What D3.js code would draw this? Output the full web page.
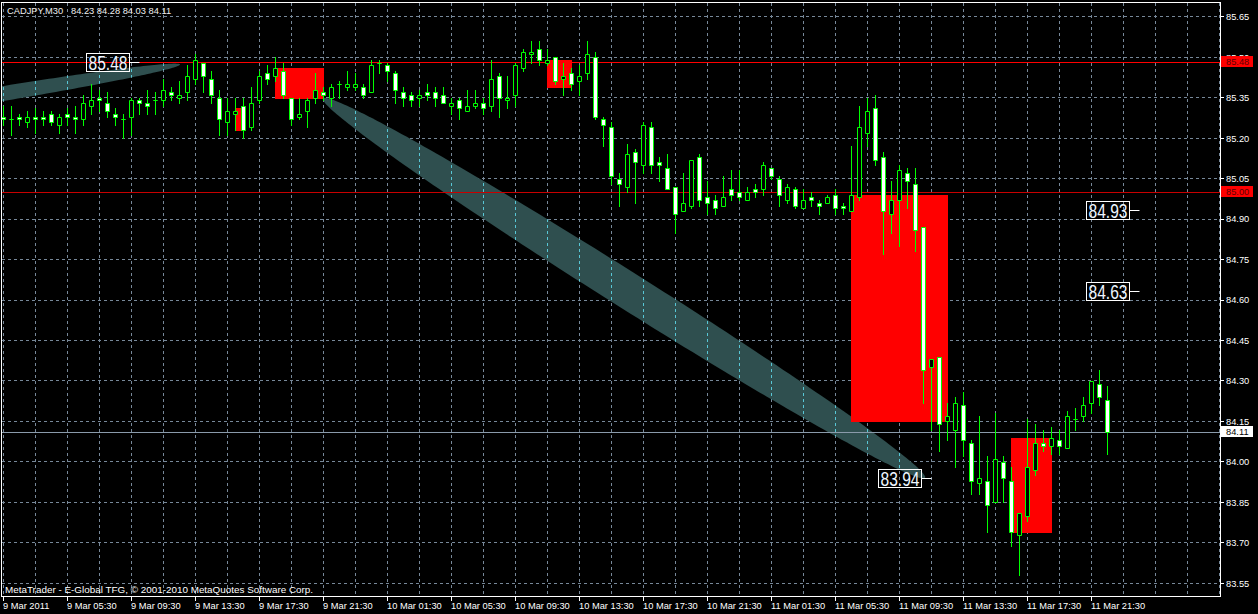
<!DOCTYPE html>
<html><head><meta charset="utf-8">
<script src="https://cdn.jsdelivr.net/npm/d3@7"></script>
<style>html,body{margin:0;padding:0;background:#000;overflow:hidden}</style>
</head><body><svg id="c" width="1258" height="614"></svg>
<script>
// ---------- DATA ----------
const symbolTitle = "CADJPY,M30";
const opens = [85.28,85.27,85.28,85.26,85.28,85.28,85.29,85.25,85.29,85.28,
85.27,85.32,85.35,85.33,85.29,85.27,85.28,85.34,85.33,85.34,
85.34,85.37,85.35,85.37,85.42,85.48,85.42,85.35,85.26,85.29,
85.32,85.24,85.34,85.44,85.43,85.45,85.35,85.28,85.30,85.35,
85.37,85.35,85.40,85.39,85.39,85.39,85.37,85.48,85.47,85.44,
85.37,85.36,85.35,85.37,85.37,85.36,85.32,85.34,85.30,85.32,
85.33,85.32,85.43,85.34,85.36,85.46,85.51,85.53,85.48,85.50,
85.42,85.44,85.41,85.44,85.50,85.27,85.24,85.05,85.02,85.15,
85.10,85.24,85.11,85.09,85.02,84.93,84.95,85.13,84.98,84.97,
84.95,85.01,85.00,84.97,85.01,85.01,85.09,85.05,84.97,85.01,
84.94,84.98,84.96,84.96,84.99,84.95,84.93,84.98,85.22,85.31,
85.13,84.92,84.97,85.07,85.03,84.87,84.35,84.39,84.15,84.12,
84.21,84.07,83.92,83.93,83.85,84.00,83.93,83.73,83.80,83.97,
84.07,84.06,84.08,84.05,84.16,84.17,84.22,84.29,84.23];
const highs = [85.32,85.32,85.29,85.30,85.31,85.30,85.30,85.29,85.31,85.32,
85.36,85.40,85.38,85.37,85.31,85.29,85.35,85.35,85.38,85.37,
85.42,85.39,85.41,85.47,85.51,85.48,85.45,85.38,85.35,85.35,
85.35,85.39,85.45,85.47,85.50,85.48,85.35,85.35,85.35,85.44,
85.39,85.40,85.41,85.45,85.44,85.40,85.49,85.49,85.48,85.45,
85.39,85.37,85.38,85.40,85.39,85.39,85.35,85.35,85.38,85.38,
85.35,85.49,85.44,85.43,85.48,85.53,85.56,85.56,85.53,85.50,
85.48,85.46,85.47,85.56,85.52,85.28,85.26,85.07,85.18,85.16,
85.26,85.26,85.13,85.14,85.02,85.07,85.12,85.14,85.04,84.99,
85.06,85.08,85.08,85.02,85.03,85.11,85.09,85.06,85.03,85.02,
85.01,85.00,84.97,84.99,85.01,84.96,85.17,85.32,85.35,85.36,
85.15,85.04,85.10,85.09,85.09,84.87,84.38,84.39,84.22,84.24,
84.26,84.08,84.17,84.02,84.18,84.02,83.98,83.81,84.16,84.14,
84.12,84.13,84.12,84.19,84.20,84.24,84.30,84.34,84.28];
const lows = [85.25,85.21,85.25,85.24,85.22,85.25,85.25,85.22,85.25,85.22,
85.25,85.29,85.30,85.28,85.25,85.20,85.21,85.29,85.29,85.29,
85.32,85.34,85.33,85.34,85.40,85.37,85.33,85.21,85.21,85.23,
85.20,85.23,85.33,85.40,85.41,85.35,85.25,85.27,85.24,85.33,
85.34,85.32,85.35,85.38,85.38,85.35,85.37,85.44,85.41,85.33,
85.32,85.32,85.32,85.34,85.32,85.33,85.29,85.27,85.30,85.31,
85.29,85.30,85.28,85.31,85.32,85.45,85.48,85.47,85.47,85.40,
85.36,85.38,85.36,85.42,85.27,85.17,85.03,84.95,85.00,84.96,
85.07,85.07,85.04,85.01,84.85,84.93,84.94,84.95,84.92,84.92,
84.95,84.97,84.97,84.97,84.98,84.99,85.05,84.95,84.96,84.94,
84.94,84.95,84.92,84.96,84.92,84.92,84.93,84.97,85.17,85.10,
84.77,84.85,84.80,84.94,84.78,84.22,84.12,84.04,84.08,83.98,
84.02,83.88,83.88,83.74,83.85,83.85,83.69,83.58,83.78,83.95,
84.04,84.03,84.03,84.05,84.12,84.15,84.18,84.21,84.03];
const closes = [85.27,85.27,85.27,85.28,85.27,85.27,85.26,85.28,85.28,85.27,
85.33,85.34,85.34,85.30,85.28,85.27,85.34,85.33,85.32,85.34,
85.38,85.36,85.36,85.43,85.49,85.43,85.36,85.27,85.30,85.30,
85.23,85.33,85.43,85.42,85.46,85.36,85.27,85.29,85.34,85.38,
85.36,85.39,85.40,85.40,85.40,85.36,85.47,85.48,85.45,85.38,
85.35,85.34,85.36,85.36,85.35,85.33,85.33,85.31,85.32,85.33,
85.31,85.42,85.35,85.35,85.47,85.52,85.52,85.49,85.49,85.41,
85.43,85.40,85.43,85.51,85.28,85.25,85.06,85.03,85.14,85.11,
85.25,85.10,85.10,85.01,84.92,84.96,85.12,84.97,84.96,84.94,
84.98,84.99,84.98,85.00,85.00,85.10,85.06,84.99,85.02,84.95,
84.97,84.97,84.95,84.98,84.94,84.94,84.99,85.24,85.30,85.12,
84.93,84.97,85.08,85.04,84.86,84.34,84.38,84.14,84.17,84.22,
84.08,83.93,83.94,83.84,84.01,83.94,83.74,83.81,83.98,84.07,
84.06,84.09,84.06,84.17,84.16,84.21,84.30,84.24,84.11];

const priceTicks = [85.65,85.50,85.35,85.20,85.05,84.90,84.75,84.60,84.45,84.30,84.15,84.00,83.85,83.70,83.55];
const timeTickIndex = [0,8,16,24,32,40,48,56,64,72,80,88,96,104,112,120,128,136];
const timeTickLabels = ["9 Mar 2011","9 Mar 05:30","9 Mar 09:30","9 Mar 13:30","9 Mar 17:30","9 Mar 21:30",
"10 Mar 01:30","10 Mar 05:30","10 Mar 09:30","10 Mar 13:30","10 Mar 17:30","10 Mar 21:30",
"11 Mar 01:30","11 Mar 05:30","11 Mar 09:30","11 Mar 13:30","11 Mar 17:30","11 Mar 21:30"];

// rectangle objects (bar index range, price range)
const rectStartIndex = [29,34,68,106,126];
const rectEndIndex   = [30,40,71,118,131];
const rectTopPrice   = [85.31,85.46,85.49,84.99,84.09];
const rectBottomPrice= [85.23,85.35,85.39,84.15,83.74];

// ellipse objects (two end points)
const ellipseStartIndex = [-24.94, 39.94];
const ellipseStartPrice = [85.244, 85.347];
const ellipseEndIndex   = [22.06, 115.19];
const ellipseEndPrice   = [85.473, 83.941];

// horizontal lines
const hLinePrices = [85.48, 85.00, 84.11];

// price label objects
const labelPrices = [85.48, 84.93, 84.63, 83.94];
const labelIndex  = [17, 142, 142, 116];

const copyright = "MetaTrader - E-Global TFG, © 2001-2010 MetaQuotes Software Corp.";

// ---------- DRAW ----------
const svg = d3.select('#c');
const x = d3.scaleLinear().domain([0,152]).range([3.5,1219.5]);
const y = d3.scaleLinear().domain([83.55,85.65]).range([583.3,16.7]);
const FONT = "'Liberation Sans', Arial, sans-serif";
const GRID = "#778899";

svg.append('rect').attr('width',1258).attr('height',614).attr('fill','#000');

const defs = svg.append('defs');
defs.append('clipPath').attr('id','plotClip').append('rect')
  .attr('x',2).attr('y',3).attr('width',1218).attr('height',593);

// ellipse polygons
const ellWidth = [7.4, 18.2];
function ellipsePath(i){
  const x1=x(ellipseStartIndex[i]), y1=y(ellipseStartPrice[i]);
  const x2=x(ellipseEndIndex[i]),   y2=y(ellipseEndPrice[i]);
  const cx=(x1+x2)/2, cy=(y1+y2)/2, a=Math.hypot(x2-x1,y2-y1)/2, th=Math.atan2(y2-y1,x2-x1), b=ellWidth[i];
  const pts=d3.range(0,360,1.5).map(deg=>{const f=deg*Math.PI/180, px=a*Math.cos(f), py=b*Math.sin(f);
    return [cx+px*Math.cos(th)-py*Math.sin(th), cy+px*Math.sin(th)+py*Math.cos(th)];});
  return d3.line()(pts)+'Z';
}
const ellIdx = d3.range(ellipseStartIndex.length);
const ellClip = defs.append('clipPath').attr('id','ellClip');
ellClip.selectAll('path').data(ellIdx).join('path').attr('d',ellipsePath);

const plot = svg.append('g').attr('clip-path','url(#plotClip)');

// grid
const gridPrices = priceTicks;
const vIdx = d3.range(0,153,4);
plot.append('g').selectAll('line').data(gridPrices).join('line')
  .attr('x1',2).attr('x2',1220)
  .attr('y1',d=>Math.floor(y(d))+0.5).attr('y2',d=>Math.floor(y(d))+0.5)
  .attr('stroke',GRID).attr('stroke-dasharray','3,3');
plot.append('g').selectAll('line').data(vIdx).join('line')
  .attr('x1',d=>x(d)).attr('x2',d=>x(d)).attr('y1',3).attr('y2',596)
  .attr('stroke',GRID).attr('stroke-dasharray','3,3');

// ellipses
plot.append('g').selectAll('path').data(ellIdx).join('path')
  .attr('d',ellipsePath).attr('fill','#2f4f4f');
// grid seen through ellipses (xor look)
const eg = plot.append('g').attr('clip-path','url(#ellClip)');
eg.selectAll('line').data(vIdx).join('line')
  .attr('x1',d=>x(d)).attr('x2',d=>x(d)).attr('y1',3).attr('y2',596)
  .attr('stroke','#58c7d6').attr('stroke-dasharray','3,3');

// rectangles
plot.append('g').selectAll('rect').data(d3.range(rectStartIndex.length)).join('rect')
  .attr('x',i=>x(rectStartIndex[i])-0.5)
  .attr('width',i=>x(rectEndIndex[i])-x(rectStartIndex[i])+1)
  .attr('y',i=>Math.round(y(rectTopPrice[i])))
  .attr('height',i=>Math.round(y(rectBottomPrice[i]))-Math.round(y(rectTopPrice[i]))+1)
  .attr('fill','#ff0000');

// horizontal lines
const hColors = ['#ff0000','#c80000','#8a9aaa'];
plot.append('g').selectAll('line').data(hLinePrices).join('line')
  .attr('x1',2).attr('x2',1220)
  .attr('y1',d=>Math.floor(y(d))+0.5).attr('y2',d=>Math.floor(y(d))+0.5)
  .attr('stroke',(d,i)=>hColors[i]).attr('stroke-width',1);

// candles
const idx = d3.range(opens.length);
const cg = plot.append('g');
cg.selectAll('line').data(idx).join('line')
  .attr('x1',i=>x(i)).attr('x2',i=>x(i))
  .attr('y1',i=>Math.round(y(highs[i])))
  .attr('y2',i=>Math.round(y(lows[i]))+1)
  .attr('stroke','#00ff00');
cg.selectAll('path').data(idx).join('path')
  .attr('d',i=>{
    const cx=x(i), t=Math.round(y(Math.max(opens[i],closes[i])))+0.5, b=Math.round(y(Math.min(opens[i],closes[i])))+0.5;
    return `M${cx-2},${t}H${cx+2}V${b}H${cx-2}Z`;})
  .attr('fill',i=>closes[i]<opens[i]?'#ffffff':'#000000')
  .attr('stroke','#00ff00').attr('stroke-width',1);

// price label objects
const lg = plot.append('g').selectAll('g').data(d3.range(labelPrices.length)).join('g');
lg.append('line')
  .attr('x1',i=>x(labelIndex[i])-10.5).attr('x2',i=>x(labelIndex[i]))
  .attr('y1',i=>Math.floor(y(labelPrices[i]))+0.5).attr('y2',i=>Math.floor(y(labelPrices[i]))+0.5)
  .attr('stroke','#fff');
lg.append('rect')
  .attr('x',i=>Math.round(x(labelIndex[i])-54)+0.5)
  .attr('y',i=>Math.floor(y(labelPrices[i]))-8.5)
  .attr('width',43).attr('height',18)
  .attr('fill','none').attr('stroke','#fff');
lg.append('text')
  .attr('x',i=>Math.round(x(labelIndex[i])-54)+2.5)
  .attr('y',i=>Math.floor(y(labelPrices[i]))+8)
  .attr('textLength',39).attr('lengthAdjust','spacingAndGlyphs')
  .attr('font-family',FONT).attr('font-size',19.5).attr('fill','#eef6ff')
  .text(i=>labelPrices[i].toFixed(2));

// copyright + header
svg.append('text').attr('x',5).attr('y',592.5).attr('font-family',FONT).attr('font-size',9.9)
  .attr('fill','#ffffff').text(copyright);
const last = opens.length-1;
svg.append('text').attr('x',7).attr('y',13.5).attr('font-family',FONT).attr('font-size',9.3)
  .attr('fill','#f0f0f0').text(symbolTitle);
svg.append('text').attr('x',71).attr('y',13.5).attr('font-family',FONT).attr('font-size',9.3)
  .attr('fill','#f0f0f0')
  .text([opens[last],highs[last],lows[last],closes[last]].map(v=>v.toFixed(2)).join(' '));

// border
svg.append('rect').attr('x',1.5).attr('y',2.5).attr('width',1219).attr('height',594)
  .attr('fill','none').attr('stroke','#fff');

// right axis
const ax = svg.append('g');
ax.selectAll('line').data(priceTicks).join('line')
  .attr('x1',1221).attr('x2',1224)
  .attr('y1',d=>Math.floor(y(d))+0.5).attr('y2',d=>Math.floor(y(d))+0.5).attr('stroke','#fff');
ax.selectAll('text').data(priceTicks).join('text')
  .attr('x',1226).attr('y',d=>y(d)+3.4)
  .attr('font-family',FONT).attr('font-size',9.3).attr('fill','#fff')
  .text(d=>d.toFixed(2));

// axis price boxes for horizontal lines
const boxFill = ['#ff0000','#ff0000','#ffffff'];
const boxText = ['#600000','#600000','#000000'];
const bg = svg.append('g').selectAll('g').data(hLinePrices).join('g');
bg.append('rect').attr('x',1221).attr('y',d=>Math.floor(y(d))-6).attr('width',32).attr('height',11)
  .attr('fill',(d,i)=>boxFill[i]);
bg.append('text').attr('x',1226).attr('y',d=>Math.floor(y(d))+3)
  .attr('font-family',FONT).attr('font-size',9.3).attr('fill',(d,i)=>boxText[i])
  .text(d=>d.toFixed(2));

// bottom axis
const bx = svg.append('g');
bx.selectAll('line').data(timeTickIndex).join('line')
  .attr('x1',d=>x(d)).attr('x2',d=>x(d)).attr('y1',597).attr('y2',601).attr('stroke','#fff');
bx.selectAll('text').data(timeTickIndex).join('text')
  .attr('x',d=>x(d)-0.5).attr('y',608.5)
  .attr('font-family',FONT).attr('font-size',9.3).attr('fill','#fff')
  .text((d,i)=>timeTickLabels[i]);
</script></body></html>
